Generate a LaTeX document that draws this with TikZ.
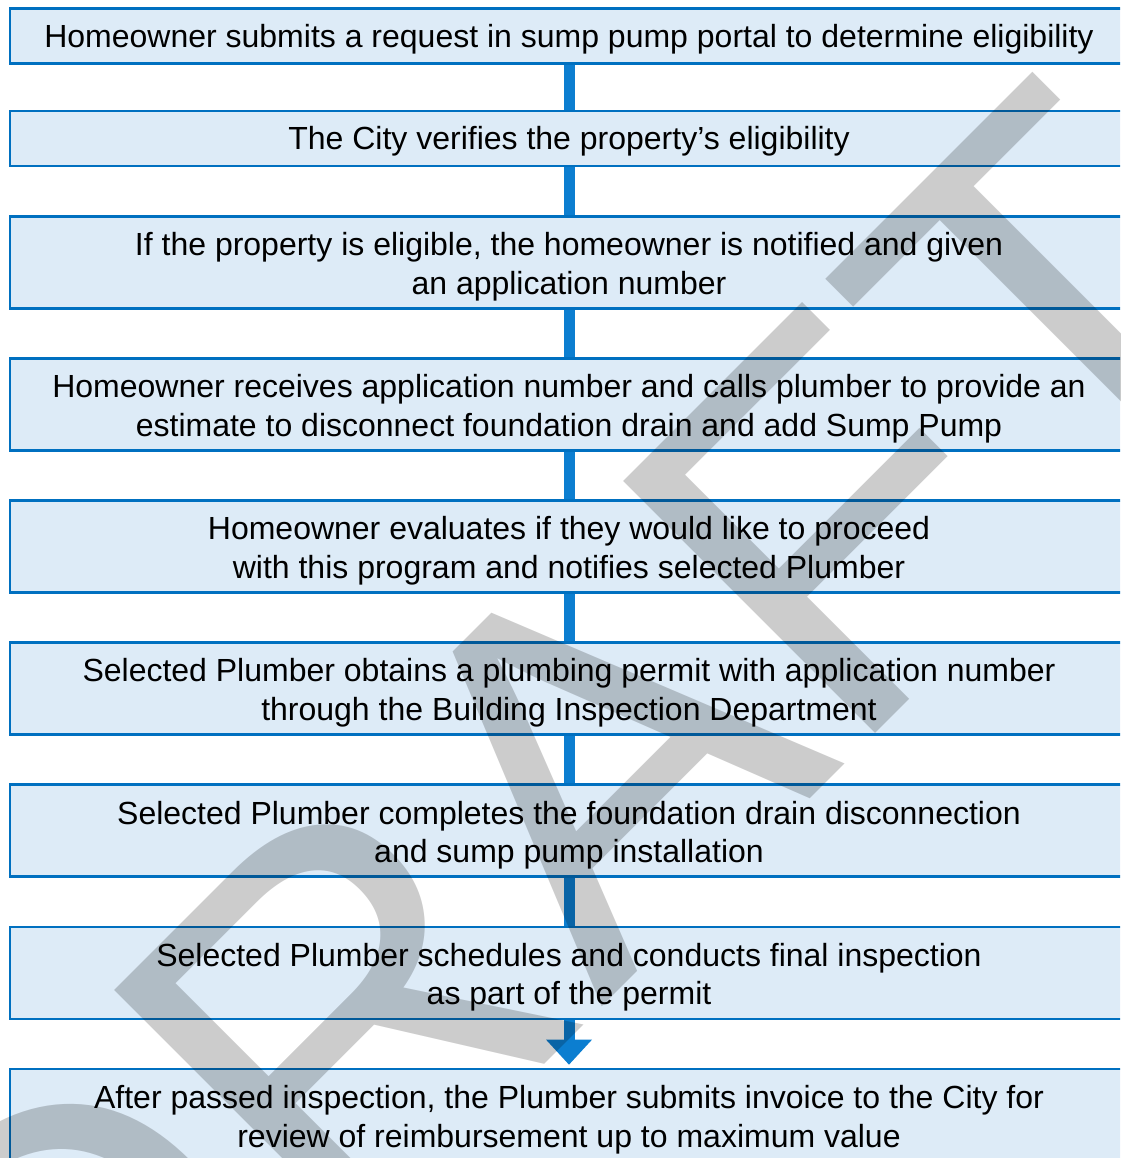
\documentclass[tikz,border=0pt]{standalone}
\usepackage{fontspec}
\setmainfont{Liberation Sans}
\usetikzlibrary{arrows.meta,backgrounds}
\definecolor{boxfill}{RGB}{221,235,247}
\definecolor{boxline}{RGB}{0,112,192}
\definecolor{barblue}{RGB}{12,126,208}
\tikzset{
  stepbox/.style={draw=boxline, fill=boxfill, line width=2.7pt,
    minimum width=1180pt, inner sep=0pt},
  onebox/.style={stepbox, minimum height=55pt},
  twobox/.style={stepbox, minimum height=92pt},
  steptext/.style={inner sep=0pt, align=center,
    font=\fontsize{32}{38.8}\selectfont, text depth=0pt},
  twotext/.style={steptext, yshift=-1pt},
  barline/.style={draw=barblue, line width=11pt},
  watermark/.style={text=black, opacity=0.2, inner sep=0pt, anchor=base west,
    rotate=45, font=\fontsize{518}{518}\selectfont}
}
\begin{document}
\begin{tikzpicture}[x=1pt,y=-1pt]
\useasboundingbox (0,0) rectangle (1120,1158);
\clip (0,0) rectangle (1120,1158);
\node[onebox] (b1) at (600,35.9) {};
\node[onebox] (b2) at (600,138.4) {};
\node[twobox] (b3) at (600,262.4) {};
\node[twobox] (b4) at (600,404.5) {};
\node[twobox] (b5) at (600,546.6) {};
\node[twobox] (b6) at (600,688.7) {};
\node[twobox] (b7) at (600,830.8) {};
\node[twobox] (b8) at (600,972.9) {};
\node[twobox] (b9) at (600,1115.0) {};
\node[steptext] (t1) at (569,35.9) {Homeowner submits a request in sump pump portal to determine eligibility};
\node[steptext] (t2) at (569,138.4) {The City verifies the property’s eligibility};
\node[twotext] (t3) at (569,262.4) {If the property is eligible, the homeowner is notified and given\\an application number};
\node[twotext] (t4) at (569,404.5) {Homeowner receives application number and calls plumber to provide an\\estimate to disconnect foundation drain and add Sump Pump};
\node[twotext] (t5) at (569,546.6) {Homeowner evaluates if they would like to proceed\\with this program and notifies selected Plumber};
\node[twotext] (t6) at (569,688.7) {Selected Plumber obtains a plumbing permit with application number\\through the Building Inspection Department};
\node[twotext] (t7) at (569,830.8) {Selected Plumber completes the foundation drain disconnection\\and sump pump installation};
\node[twotext] (t8) at (569,972.9) {Selected Plumber schedules and conducts final inspection\\as part of the permit};
\node[twotext] (t9) at (569,1115.0) {After passed inspection, the Plumber submits invoice to the City for\\review of reimbursement up to maximum value};
\begin{scope}[on background layer]
\draw[barline] (b1.south -| t1) -- (b2.north -| t2);
\draw[barline] (b2.south -| t2) -- (b3.north -| t3);
\draw[barline] (b3.south -| t3) -- (b4.north -| t4);
\draw[barline] (b4.south -| t4) -- (b5.north -| t5);
\draw[barline] (b5.south -| t5) -- (b6.north -| t6);
\draw[barline] (b6.south -| t6) -- (b7.north -| t7);
\draw[barline] (b7.south -| t7) -- (b8.north -| t8);
\draw[barline, -{Triangle[width=46pt,length=25pt,line width=0pt]}, shorten >=3pt] (b8.south -| t8) -- (b9.north -| t9);
\end{scope}
\node[watermark] (wm) at (72,1537) {DRAFT};
\end{tikzpicture}
\end{document}
